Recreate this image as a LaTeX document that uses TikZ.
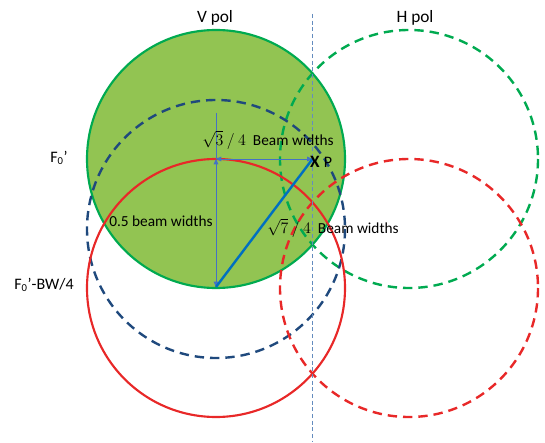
\documentclass[tikz,border=0pt]{standalone}
\usepackage{fontspec}
\setmainfont{Carlito}
\usetikzlibrary{arrows.meta}

\definecolor{vfill}{RGB}{146,196,82}
\definecolor{vgreen}{RGB}{0,170,80}
\definecolor{beamred}{RGB}{232,40,40}
\definecolor{navy}{RGB}{31,73,125}
\definecolor{armblue}{RGB}{68,114,196}
\definecolor{rayblue}{RGB}{0,112,192}
\definecolor{guide}{RGB}{100,140,190}

\tikzset{
    beam/.style={line width=1.6pt},
    beamdash/.style={line width=1.8pt, dash pattern=on 7pt off 4.5pt},
    arm/.style={armblue, line width=0.7pt, {Triangle[length=4pt,width=3.5pt]}-{Triangle[length=4pt,width=3.5pt]}},
    lbl/.style={font=\fontsize{11.5}{13}\selectfont, inner sep=0pt},
    title/.style={font=\fontsize{13}{15}\selectfont, inner sep=0pt}
}

\begin{document}
\begin{tikzpicture}[x=0.75pt, y=-0.75pt]
    \useasboundingbox (0,0) rectangle (545,442);

    % Centres and points
    \coordinate (V) at (216,159);
    \coordinate (H) at (409,159);
    \coordinate (F) at (216,229);
    \coordinate (VL) at (216,288);
    \coordinate (HL) at (409,288);
    \coordinate (P) at (312.5,159);
    \coordinate (B) at (216,287);
    \coordinate (T) at (216,113);
    \coordinate (gtop) at (312.5,14);
    \coordinate (gbot) at (312.5,442);

    % Draw beams
    \fill[vfill] (V) circle (129);
    \draw[beam, vgreen] (V) circle (129);
    \draw[beamdash, vgreen] (H) circle (129);
    \draw[beamdash, navy] (F) circle (129);
    \draw[beam, beamred] (VL) circle (129);
    \draw[beamdash, beamred] (HL) circle (129);

    % Centre line
    \draw[guide, line width=0.7pt, dash pattern=on 3pt off 2pt] (gtop) -- (gbot);

    % Draw distances
    \draw[armblue, line width=0.7pt] (T) -- (V);
    \draw[arm] (V) -- (B);
    \draw[arm] (V) -- (P);
    \draw[rayblue, line width=1.8pt] (B) -- (P);

    % Labels
    \node[title] (vpol) at (215,18) {V pol};
    \node[title] (hpol) at (415,18) {H pol};
    \node[title, font=\fontsize{12}{14}\selectfont] (f0) at (59,158) {F\textsubscript{0}’};
    \node[title, font=\fontsize{12}{14}\selectfont] (f0bw) at (44,285) {F\textsubscript{0}’-BW/4};
    \node[lbl, anchor=west] (arm3) at (202,140) {$\sqrt{3}\ /\ 4$\ \ Beam widths};
    \node[lbl, anchor=west] (arm5) at (109,221) {0.5 beam widths};
    \node[lbl, anchor=west] (arm7) at (267,228) {$\sqrt{7}\ /\ 4$\ \ Beam widths};
    \node[lbl, font=\fontsize{13}{15}\bfseries] (xmark) at (315,162) {X};
    \node[lbl, font=\fontsize{12}{14}\selectfont] (pname) at (328,162) {P};
\end{tikzpicture}
\end{document}
